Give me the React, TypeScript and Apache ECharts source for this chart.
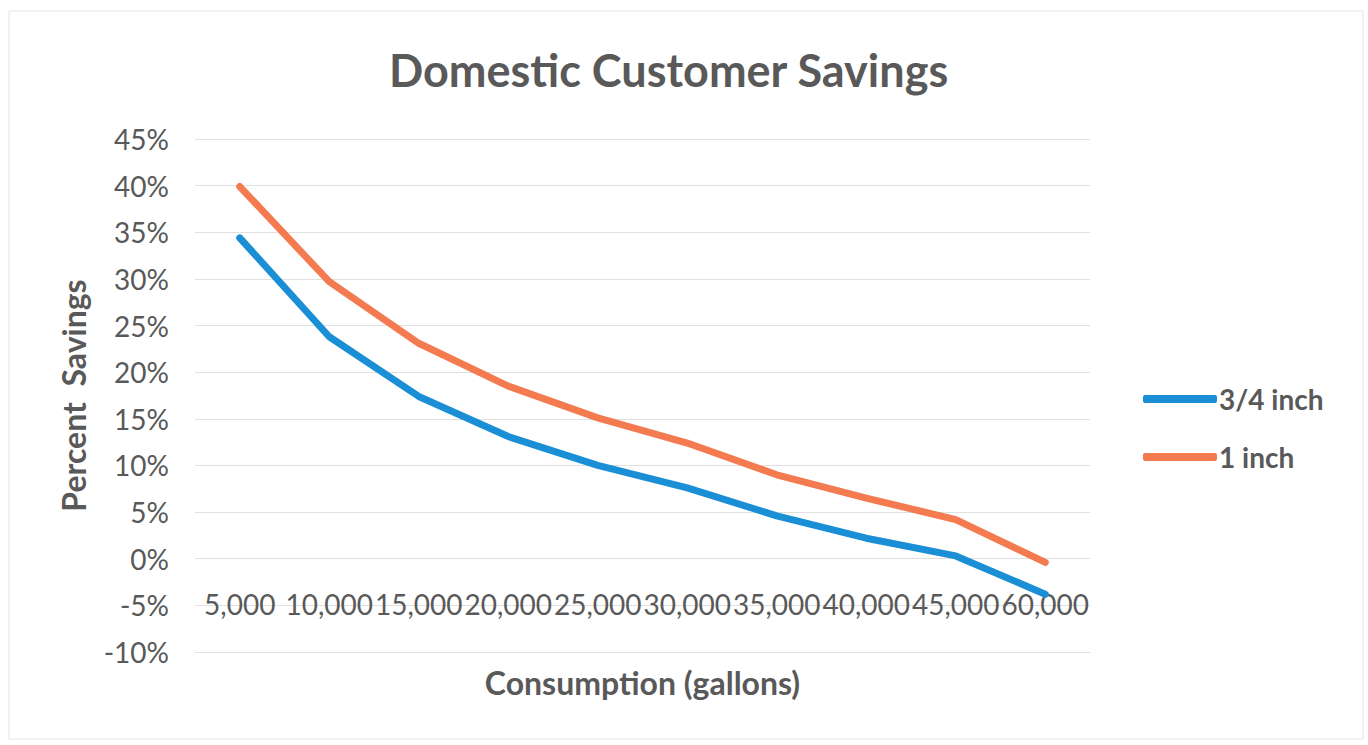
import React, { useEffect, useRef } from "react";
import * as echarts from "echarts";

const categories = ["5,000", "10,000", "15,000", "20,000", "25,000", "30,000", "35,000", "40,000", "45,000", "60,000"];
const threeQuarterInch = [34.4, 23.8, 17.4, 13.1, 10.0, 7.6, 4.6, 2.2, 0.3, -3.8];
const oneInch = [39.9, 29.7, 23.1, 18.5, 15.1, 12.4, 9.0, 6.5, 4.2, -0.4];
const seriesNames = ["3/4 inch", "1 inch"];

const FONT = "Lato, 'Noto Sans', sans-serif";
const GRAY = "#595959";

export default function App() {
  const ref = useRef<HTMLDivElement>(null);
  useEffect(() => {
    if (!ref.current) return;
    const chart = echarts.init(ref.current, null, { renderer: "svg" });
    chart.setOption({
      animation: false,
      backgroundColor: "#ffffff",
      textStyle: { fontFamily: FONT },
      title: {
        text: "Domestic Customer Savings",
        left: 384,
        top: 42,
        textStyle: { fontFamily: FONT, fontSize: 45, fontWeight: "bold", color: GRAY },
      },
      legend: {
        orient: "vertical",
        left: 1138,
        top: 380,
        itemGap: 30,
        itemWidth: 74,
        itemHeight: 8,
        icon: "roundRect",
        textStyle: { fontFamily: FONT, fontSize: 28, fontWeight: "bold", color: GRAY, padding: [0, 0, 0, -3] },
        data: seriesNames,
      },
      grid: { left: 195, right: 278, top: 139, bottom: 93, containLabel: false, outerBoundsMode: "none" },
      graphic: [
        {
          type: "rect",
          shape: { x: 9, y: 11, width: 1354, height: 728 },
          style: { fill: "none", stroke: "#e3e3e3", lineWidth: 1 },
        },
      ],
      xAxis: {
        type: "category",
        data: categories,
        boundaryGap: true,
        name: "Consumption (gallons)",
        nameLocation: "middle",
        nameGap: 14,
        nameTextStyle: { fontFamily: FONT, fontSize: 32, fontWeight: "bold", color: GRAY },
        axisLine: { show: true, onZero: false, lineStyle: { color: "#e0e0e0", width: 1 } },
        axisTick: { show: false },
        axisLabel: { interval: 0, margin: -62, fontFamily: FONT, fontSize: 28, color: GRAY },
      },
      yAxis: {
        type: "value",
        min: -10,
        max: 45,
        interval: 5,
        name: "Percent  Savings",
        nameLocation: "middle",
        nameGap: 106,
        nameRotate: 90,
        nameTextStyle: { fontFamily: FONT, fontSize: 32, fontWeight: "bold", color: GRAY },
        axisLine: { show: false },
        axisTick: { show: false },
        axisLabel: { formatter: "{value}%", margin: 26, fontFamily: FONT, fontSize: 28, color: GRAY },
        splitLine: { show: true, lineStyle: { color: "#e0e0e0", width: 1 } },
      },
      series: [
        {
          name: seriesNames[0],
          type: "line",
          data: threeQuarterInch,
          symbol: "none",
          lineStyle: { color: "#1b8fd6", width: 7, cap: "round", join: "round" },
          itemStyle: { color: "#1b8fd6" },
        },
        {
          name: seriesNames[1],
          type: "line",
          data: oneInch,
          symbol: "none",
          lineStyle: { color: "#f47a50", width: 7, cap: "round", join: "round" },
          itemStyle: { color: "#f47a50" },
        },
      ],
    });
    return () => chart.dispose();
  }, []);
  return (
    <div
      ref={ref}
      style={{ position: "fixed", left: 0, top: 0, width: 1368, height: 745 }}
    />
  );
}
